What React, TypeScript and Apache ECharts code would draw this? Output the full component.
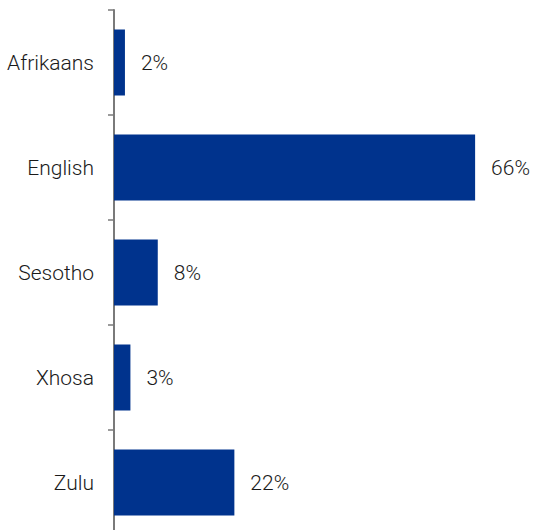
import React, { useEffect, useRef } from "react";
import * as echarts from "echarts";

const categories = ["Afrikaans", "English", "Sesotho", "Xhosa", "Zulu"];
const values = [2, 66, 8, 3, 22];

const FONT = "Roboto, 'Liberation Sans', Arial, sans-serif";

export default function App() {
  const ref = useRef<HTMLDivElement>(null);
  useEffect(() => {
    if (!ref.current) return;
    const chart = echarts.init(ref.current, null, { renderer: "svg" });
    chart.setOption({
      animation: false,
      grid: { left: 114, top: 10, width: 383, height: 525 },
      xAxis: {
        type: "value",
        min: 0,
        max: 70,
        show: false,
      },
      yAxis: {
        type: "category",
        inverse: true,
        data: categories,
        axisLine: { show: true, lineStyle: { color: "#7a7a7a", width: 2 } },
        axisTick: { show: true, length: 6, lineStyle: { color: "#7a7a7a", width: 1.5 } },
        axisLabel: {
          margin: 20,
          color: "#1a1a1a",
          fontSize: 21,
          fontWeight: 300,
          fontFamily: FONT,
        },
        splitLine: { show: false },
      },
      series: [
        {
          type: "bar",
          data: values,
          barWidth: 66,
          itemStyle: { color: "#00338D" },
          label: {
            show: true,
            position: "right",
            distance: 16,
            formatter: "{c}%",
            color: "#1a1a1a",
            fontSize: 21,
            fontWeight: 300,
            fontFamily: FONT,
          },
        },
      ],
    });
    return () => chart.dispose();
  }, []);
  return (
    <div
      ref={ref}
      style={{ position: "absolute", left: 0, top: 0, width: 534, height: 545 }}
    />
  );
}
